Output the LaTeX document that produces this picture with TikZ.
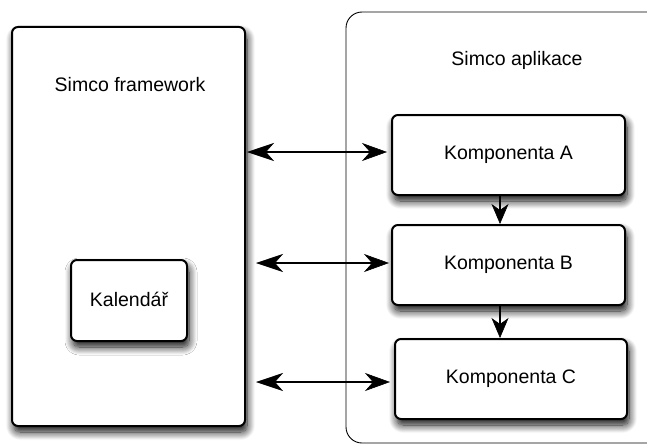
\documentclass[tikz,border=0pt]{standalone}
\usepackage{fontspec}
\setmainfont{Liberation Sans}
\usetikzlibrary{arrows.meta,shadows.blur}
\begin{document}
\begin{tikzpicture}[x=1pt,y=-1pt,
  box/.style={draw=black,line width=2pt,rounded corners=6pt,fill=white,
    blur shadow={shadow xshift=2pt,shadow yshift=-6pt,shadow blur steps=12,shadow blur radius=8pt,shadow opacity=95}},
  lbl/.style={font=\fontsize{19.5}{21}\selectfont,inner sep=0pt},
  link/.style={line width=2.6pt,{Stealth[length=27pt,width=18pt,inset=8pt,line width=0.6pt,fill=black]}-{Stealth[length=25pt,width=18pt,inset=8pt,line width=0.6pt,fill=black]}},
  flow/.style={line width=2.6pt,-{Stealth[length=20pt,width=17pt,inset=6pt,line width=0.6pt,fill=black]}}]
\useasboundingbox (0,0) rectangle (647,444);
\begin{scope}
\clip (0,0) rectangle (647,444);
\draw[line width=0.9pt,rounded corners=16pt] (346,12) rectangle (800,443);
\end{scope}
\node[lbl] (apptitle) at (517,60) {Simco aplikace};
% framework
\path[box] (12,27) rectangle (245,426);
\node[lbl] (fwtitle) at (130,85) {Simco framework};
\path[box] (71,260) rectangle (187,341);
\node[lbl] (kal) at (129,299) {Kalendář};
% components
\node[box,minimum width=233pt,minimum height=80pt,lbl,inner sep=0pt] (A) at (508.5,155) {Komponenta A};
\node[box,minimum width=233pt,minimum height=80pt,lbl,inner sep=0pt] (B) at (508.5,265) {Komponenta B};
\node[box,minimum width=232pt,minimum height=80pt,lbl,inner sep=0pt] (C) at (511,379) {Komponenta C};
\coordinate (fa) at (247,152);
\coordinate (fb) at (256,263);
\coordinate (fc) at (256,382);
\draw[link] (fa) -- ([xshift=-4pt]A.west |- fa);
\draw[link] (fb) -- ([xshift=-2pt]B.west |- fb);
\draw[link] (fc) -- ([xshift=-4pt]C.west |- fc);
\draw[flow] (A.south -| 500,0) -- (B.north -| 500,0);
\draw[flow] (B.south -| 500,0) -- (C.north -| 500,0);
\end{tikzpicture}
\end{document}
